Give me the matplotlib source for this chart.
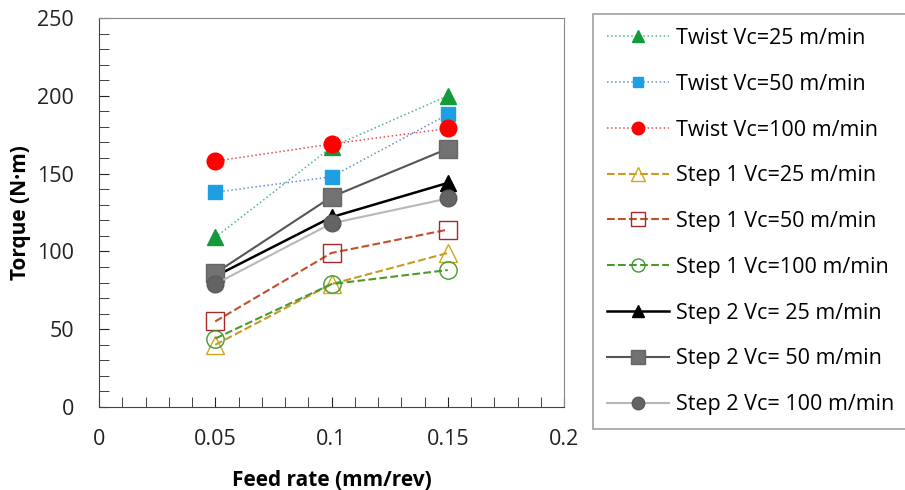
import matplotlib.pyplot as plt
from matplotlib.ticker import MultipleLocator

plt.rcParams['font.family'] = ['Open Sans', 'DejaVu Sans']

feed = [0.05, 0.1, 0.15]

twist_25 = [109, 167, 200]
twist_50 = [138, 148, 188]
twist_100 = [158, 169, 179]
step1_25 = [40, 79, 99]
step1_50 = [55, 99, 114]
step1_100 = [44, 79, 88]
step2_25 = [84, 122, 144]
step2_50 = [86, 135, 166]
step2_100 = [79, 118, 134]

labels = ["Twist Vc=25 m/min", "Twist Vc=50 m/min", "Twist Vc=100 m/min",
          "Step 1 Vc=25 m/min", "Step 1 Vc=50 m/min", "Step 1 Vc=100 m/min",
          "Step 2 Vc= 25 m/min", "Step 2 Vc= 50 m/min", "Step 2 Vc= 100 m/min"]

W, H = 905, 490
fig = plt.figure(figsize=(W / 100, H / 100), dpi=100)
ax = fig.add_axes([99 / W, 1 - 407 / H, (564 - 99) / W, (407 - 18) / H])

# twist drill, dotted lines
ax.plot(feed, twist_25, ':', color='#4fb39a', lw=1.1, marker='^', ms=12, mfc='#139a3a', mec='#139a3a', label=labels[0])
ax.plot(feed, twist_50, ':', color='#6a8fd0', lw=1.1, marker='s', ms=9.5, mfc='#1e9fe3', mec='#1e9fe3', label=labels[1])
ax.plot(feed, twist_100, ':', color='#e05050', lw=1.1, marker='o', ms=12, mfc='#ff0000', mec='#ff0000', label=labels[2])
# step 1, dashed lines
ax.plot(feed, step1_25, '--', color='#c89a20', lw=1.5, marker='^', ms=13, mfc='none', mec='#d4a41c', label=labels[3])
ax.plot(feed, step1_50, '--', color='#c0502a', lw=1.5, marker='s', ms=12.5, mfc='none', mec='#a52a2a', label=labels[4])
ax.plot(feed, step1_100, '--', color='#4a9a2a', lw=1.5, marker='o', ms=12.5, mfc='none', mec='#3f9a2f', label=labels[5])
# step 2, solid lines
ax.plot(feed, step2_25, '-', color='black', lw=1.8, marker='^', ms=12, mfc='black', mec='black', label=labels[6])
ax.plot(feed, step2_50, '-', color='#555555', lw=1.5, marker='s', ms=12.5, mfc='#727272', mec='#666666', label=labels[7])
ax.plot(feed, step2_100, '-', color='#b8b8b8', lw=1.5, marker='o', ms=12, mfc='#646464', mec='#5a5a5a', label=labels[8])

ax.set_xlim(0, 0.2)
ax.set_ylim(0, 250)
ax.set_xticks([0, 0.05, 0.1, 0.15, 0.2])
ax.set_xticklabels(['0', '0.05', '0.1', '0.15', '0.2'])
ax.xaxis.set_minor_locator(MultipleLocator(0.01))
ax.yaxis.set_major_locator(MultipleLocator(50))
ax.yaxis.set_minor_locator(MultipleLocator(10))
ax.tick_params(which='both', direction='in', labelsize=15.5, colors='#222222')
ax.tick_params(which='major', length=7)
ax.tick_params(which='minor', length=7)
ax.tick_params(axis='x', which='major', pad=16)
ax.tick_params(axis='y', which='major', pad=18)
ax.tick_params(axis='x', which='both', top=False)
ax.tick_params(axis='y', which='both', right=False)
for s in ax.spines.values():
    s.set_color('#888888')
ax.spines['left'].set_color('#444444')
ax.spines['bottom'].set_color('#444444')

ax.set_xlabel("Feed rate (mm/rev)", fontsize=15, fontweight='bold', labelpad=14)
ax.set_ylabel("Torque (N\u00b7m)", fontsize=15, fontweight='bold', labelpad=4)

leg = fig.legend(loc='upper left', bbox_to_anchor=(593 / W, 1 - 14 / H), fontsize=15.5,
                 frameon=True, fancybox=False, edgecolor='#888888', labelspacing=1.15,
                 handlelength=2.9, borderpad=0.65, borderaxespad=0, handletextpad=0.3,
                 markerscale=0.75)
leg.get_frame().set_linewidth(1.2)

fig.savefig('out.png', dpi=100)
